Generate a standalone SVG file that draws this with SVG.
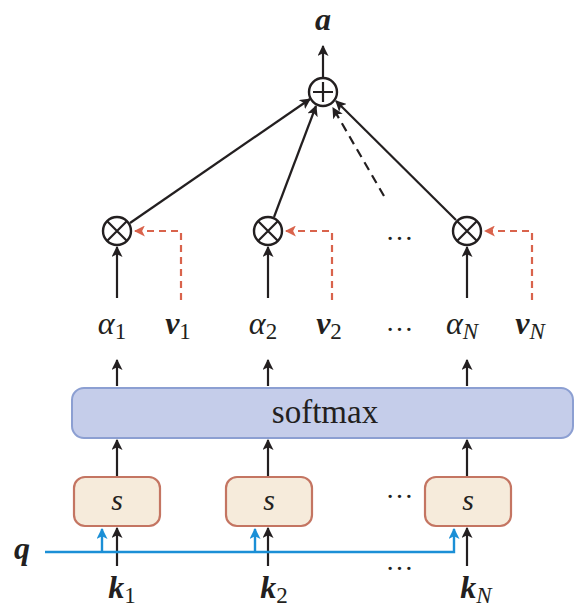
<svg xmlns="http://www.w3.org/2000/svg" width="574" height="607" viewBox="0 0 574 607">
<style>
.ln{stroke:#231f20;stroke-width:2.2;fill:none}
.rd{stroke:#d9634c;stroke-width:2.2;fill:none;stroke-dasharray:7,5}
.bl{stroke:#1b8fd6;stroke-width:2.4;fill:none}
.op{fill:#fff;stroke:#231f20;stroke-width:2.4}
.sb{fill:#f6ebdb;stroke:#c47562;stroke-width:2.2}
.t{font-family:"Liberation Serif",serif;fill:#231f20}
.bi{font-weight:bold;font-style:italic}
.it{font-style:italic}
.sub{font-size:23px;font-style:normal;font-weight:normal}
.subi{font-size:23px;font-style:italic;font-weight:normal}
.dots{font-size:28px;letter-spacing:1px}
</style>
<defs>
<marker id="ab" viewBox="0 0 10 10" refX="9" refY="5" markerWidth="11" markerHeight="11" markerUnits="userSpaceOnUse" orient="auto"><path d="M0,0 L10,5 L0,10 L2.5,5 z" fill="#231f20"/></marker>
<marker id="ar" viewBox="0 0 10 10" refX="9" refY="5" markerWidth="11" markerHeight="11" markerUnits="userSpaceOnUse" orient="auto"><path d="M0,0 L10,5 L0,10 L2.5,5 z" fill="#d9634c"/></marker>
<marker id="abl" viewBox="0 0 10 10" refX="9" refY="5" markerWidth="11" markerHeight="11" markerUnits="userSpaceOnUse" orient="auto"><path d="M0,0 L10,5 L0,10 L2.5,5 z" fill="#1b8fd6"/></marker>
</defs>
<g id="connectors">
<line class="ln" x1="323" y1="77" x2="323" y2="46" marker-end="url(#ab)"/>
<line class="ln" x1="130" y1="223" x2="310" y2="99" marker-end="url(#ab)"/>
<line class="ln" x1="274" y1="217" x2="316" y2="106" marker-end="url(#ab)"/>
<line class="ln" x1="384" y1="196" x2="333" y2="108" stroke-dasharray="9,6" marker-end="url(#ab)"/>
<line class="ln" x1="456" y1="220" x2="336" y2="101" marker-end="url(#ab)"/>
<line class="ln" x1="117" y1="298" x2="117" y2="247" marker-end="url(#ab)"/>
<line class="ln" x1="268" y1="298" x2="268" y2="247" marker-end="url(#ab)"/>
<line class="ln" x1="467" y1="298" x2="467" y2="247" marker-end="url(#ab)"/>
<polyline class="rd" points="181,300 181,231 135,231" marker-end="url(#ar)"/>
<polyline class="rd" points="332,300 332,231 286,231" marker-end="url(#ar)"/>
<polyline class="rd" points="532,300 532,231 485,231" marker-end="url(#ar)"/>
<line class="ln" x1="117" y1="386" x2="117" y2="360" marker-end="url(#ab)"/>
<line class="ln" x1="268" y1="386" x2="268" y2="360" marker-end="url(#ab)"/>
<line class="ln" x1="467" y1="386" x2="467" y2="360" marker-end="url(#ab)"/>
<line class="ln" x1="117" y1="477" x2="117" y2="440" marker-end="url(#ab)"/>
<line class="ln" x1="268" y1="477" x2="268" y2="440" marker-end="url(#ab)"/>
<line class="ln" x1="467" y1="477" x2="467" y2="440" marker-end="url(#ab)"/>
<line class="ln" x1="117" y1="566" x2="117" y2="528" marker-end="url(#ab)"/>
<line class="ln" x1="268" y1="566" x2="268" y2="528" marker-end="url(#ab)"/>
<line class="ln" x1="467" y1="566" x2="467" y2="528" marker-end="url(#ab)"/>
<polyline class="bl" points="45,552 454,552 454,529" marker-end="url(#abl)"/>
<line class="bl" x1="102" y1="552" x2="102" y2="529" marker-end="url(#abl)"/>
<line class="bl" x1="255" y1="552" x2="255" y2="529" marker-end="url(#abl)"/>
</g>
<g id="out"><text class="t bi" x="323" y="30" font-size="32" text-anchor="middle">a</text></g>
<g id="plus"><circle class="op" cx="323" cy="92" r="14"/><path class="ln" d="M313,92 H333 M323,82 V102"/></g>
<g id="mul1"><circle class="op" cx="117" cy="231" r="14"/><path class="ln" d="M107.5,221.5 L126.5,240.5 M126.5,221.5 L107.5,240.5"/></g>
<g id="mul2"><circle class="op" cx="268" cy="231" r="14"/><path class="ln" d="M258.5,221.5 L277.5,240.5 M277.5,221.5 L258.5,240.5"/></g>
<g id="mulN"><circle class="op" cx="467" cy="231" r="14"/><path class="ln" d="M457.5,221.5 L476.5,240.5 M476.5,221.5 L457.5,240.5"/></g>
<g id="labels" class="t">
<text class="dots" x="400" y="240" text-anchor="middle">…</text>
<text class="it" x="112" y="334" font-size="32" text-anchor="middle">α<tspan class="sub" dy="5">1</tspan></text>
<text class="bi" x="178" y="334" font-size="32" text-anchor="middle">v<tspan class="sub" dy="5">1</tspan></text>
<text class="it" x="263" y="334" font-size="32" text-anchor="middle">α<tspan class="sub" dy="5">2</tspan></text>
<text class="bi" x="329" y="334" font-size="32" text-anchor="middle">v<tspan class="sub" dy="5">2</tspan></text>
<text class="dots" x="400" y="331" text-anchor="middle">…</text>
<text class="it" x="462" y="334" font-size="32" text-anchor="middle">α<tspan class="subi" dy="5">N</tspan></text>
<text class="bi" x="530" y="334" font-size="32" text-anchor="middle">v<tspan class="subi" dy="5">N</tspan></text>
</g>
<g id="softmax"><rect x="72" y="388" width="501" height="50" rx="12" fill="#c5cdea" stroke="#8c9fd2" stroke-width="2"/><text class="t" x="325" y="423" font-size="33" text-anchor="middle">softmax</text></g>
<g id="s1"><rect class="sb" x="74" y="477" width="86" height="49" rx="11"/><text class="t it" x="117" y="510" font-size="30" text-anchor="middle">s</text></g>
<g id="s2"><rect class="sb" x="226" y="477" width="86" height="49" rx="11"/><text class="t it" x="269" y="510" font-size="30" text-anchor="middle">s</text></g>
<g id="sN"><rect class="sb" x="425" y="477" width="86" height="49" rx="11"/><text class="t it" x="468" y="510" font-size="30" text-anchor="middle">s</text></g>
<g id="inputs" class="t">
<text class="dots" x="400" y="498" text-anchor="middle">…</text>
<text class="dots" x="400" y="570" text-anchor="middle">…</text>
<text class="bi" x="22" y="559" font-size="32" text-anchor="middle">q</text>
<text class="bi" x="122" y="598" font-size="32" text-anchor="middle">k<tspan class="sub" dy="5">1</tspan></text>
<text class="bi" x="274" y="598" font-size="32" text-anchor="middle">k<tspan class="sub" dy="5">2</tspan></text>
<text class="bi" x="476" y="598" font-size="32" text-anchor="middle">k<tspan class="subi" dy="5">N</tspan></text>
</g>
</svg>
